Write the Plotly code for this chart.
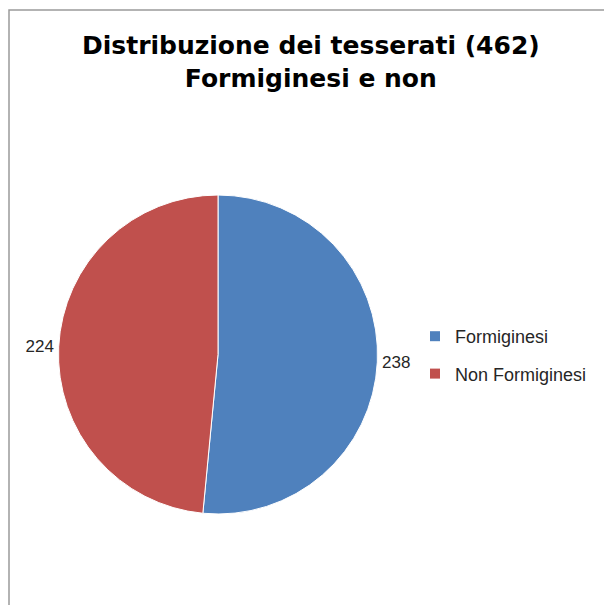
import plotly.graph_objects as go

categories = ["Formiginesi", "Non Formiginesi"]
values = [238, 224]
colors = ["#4F81BD", "#C0504D"]
title_lines = ["Distribuzione dei tesserati (462)", "Formiginesi e non"]

W, H = 604, 605

fig = go.Figure()
fig.add_trace(go.Pie(
    labels=categories,
    values=values,
    sort=False,
    direction="clockwise",
    rotation=0,
    marker=dict(colors=colors, line=dict(color="white", width=1)),
    textinfo="value",
    textposition="outside",
    textfont=dict(family="Liberation Sans, Arial, sans-serif", size=17, color="#262626"),
    domain=dict(x=[58 / W, 378 / W], y=[1 - 514 / H, 1 - 195 / H]),
    showlegend=False,
    hoverinfo="label+value+percent",
))

# legend entries (one group per category so spacing can match the reference)
for cat, col in zip(categories, colors):
    fig.add_trace(go.Scatter(
        x=[None], y=[None], mode="markers", name=cat, legendgroup=cat,
        marker=dict(symbol="square", size=10, color=col),
        showlegend=True, hoverinfo="skip",
    ))

fig.update_layout(
    width=W, height=H,
    margin=dict(l=0, r=0, t=0, b=0),
    paper_bgcolor="white",
    plot_bgcolor="white",
    xaxis=dict(visible=False),
    yaxis=dict(visible=False),
    legend=dict(
        x=415 / W, y=1 - 318 / H, xanchor="left", yanchor="top",
        font=dict(family="Liberation Sans, Arial, sans-serif", size=18, color="#262626"),
        tracegroupgap=11,
        bgcolor="rgba(0,0,0,0)",
    ),
    annotations=[dict(
        text="<b>" + "<br>".join(title_lines) + "</b>",
        x=311 / W, y=1 - 62 / H, xref="paper", yref="paper",
        xanchor="center", yanchor="middle", showarrow=False,
        font=dict(family="DejaVu Sans, Noto Sans, sans-serif", size=25, color="black"),
    )],
    shapes=[dict(
        type="rect", xref="paper", yref="paper",
        x0=9 / W, x1=1.05, y0=-0.05, y1=1 - 10 / H,
        line=dict(color="#9a9a9a", width=1.5), fillcolor="rgba(0,0,0,0)",
    )],
)

fig.write_html(
    "out.html",
    config={"displayModeBar": False},
    post_script="document.body.style.margin='0';document.body.style.overflow='hidden';",
)
